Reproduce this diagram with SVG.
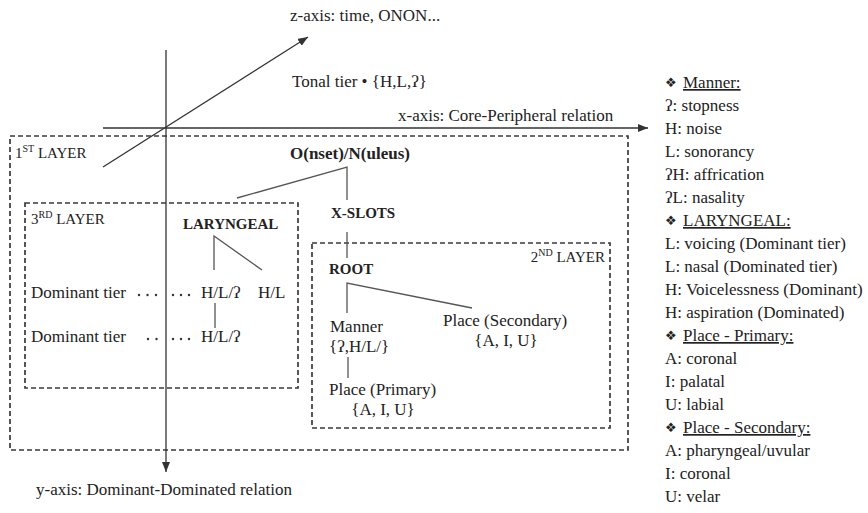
<svg xmlns="http://www.w3.org/2000/svg" width="868" height="513" viewBox="0 0 868 513">
  <style>
    text { font-family: "Liberation Serif", "Times New Roman", serif; fill: #222; font-size: 17px; }
    .b { font-weight: bold; font-size: 15px; }
    .bo { font-weight: bold; font-size: 17px; }
    .lay { font-size: 15px; }
    .sup { font-size: 10px; }
    .leg { font-size: 17px; }
    .orn { font-family: "DejaVu Sans", sans-serif; font-size: 13px; }
    .u { text-decoration: underline; }
    .box { fill: none; stroke: #3a3a3a; stroke-width: 1.7; stroke-dasharray: 5 3; }
    .axis { stroke: #333; stroke-width: 1.3; fill: none; }
    .edge { stroke: #555; stroke-width: 1.3; fill: none; }
    .dot { fill: #333; }
  </style>
  <defs>
    <marker id="arrow" markerUnits="userSpaceOnUse" markerWidth="10" markerHeight="8" refX="10" refY="4" orient="auto">
      <path d="M0,0 L10,4 L0,8 z" fill="#333"/>
    </marker>
  </defs>

  <rect width="868" height="513" fill="#ffffff"/>

  <!-- layer frames -->
  <g id="layer1">
    <rect class="box" x="10" y="136" width="618" height="314"/>
    <text class="lay" x="15" y="158">1<tspan class="sup" dy="-6">ST</tspan><tspan dy="6"> LAYER</tspan></text>
  </g>
  <g id="layer3">
    <rect class="box" x="25" y="203" width="273" height="185"/>
    <text class="lay" x="31" y="224">3<tspan class="sup" dy="-6">RD</tspan><tspan dy="6"> LAYER</tspan></text>
  </g>
  <g id="layer2">
    <rect class="box" x="312" y="243" width="298" height="185"/>
    <text class="lay" x="605" y="262" text-anchor="end">2<tspan class="sup" dy="-6">ND</tspan><tspan dy="6"> LAYER</tspan></text>
  </g>

  <!-- axes -->
  <g id="axes">
    <line class="axis" x1="166" y1="50" x2="166" y2="472" marker-end="url(#arrow)"/>
    <line class="axis" x1="103" y1="128" x2="648" y2="128" marker-end="url(#arrow)"/>
    <line class="axis" x1="103" y1="167" x2="308" y2="37" marker-end="url(#arrow)"/>
    <text x="290" y="21">z-axis: time, ONON...</text>
    <text x="398" y="121">x-axis: Core-Peripheral relation</text>
    <text x="36" y="495">y-axis: Dominant-Dominated relation</text>
    <text x="292" y="87">Tonal tier • {H,L,ʔ}</text>
  </g>

  <!-- tree connectors -->
  <g id="connectors">
    <polyline class="edge" points="237,198 347,167 347,200"/>
    <line class="edge" x1="347" y1="232" x2="347" y2="258"/>
    <polyline class="edge" points="214,270 214,236 262,270"/>
    <line class="edge" x1="215" y1="303" x2="215" y2="328"/>
    <polyline class="edge" points="347,313 347,283 472,308"/>
    <line class="edge" x1="348" y1="357" x2="348" y2="378"/>
    <g id="dots-dominant-1">
      <circle class="dot" cx="139" cy="295" r="1.2"/>
      <circle class="dot" cx="147.5" cy="295" r="1.2"/>
      <circle class="dot" cx="156" cy="295" r="1.2"/>
      <circle class="dot" cx="173" cy="295" r="1.2"/>
      <circle class="dot" cx="181" cy="295" r="1.2"/>
      <circle class="dot" cx="189" cy="295" r="1.2"/>
    </g>
    <g id="dots-dominant-2">
      <circle class="dot" cx="148" cy="339" r="1.2"/>
      <circle class="dot" cx="156.5" cy="339" r="1.2"/>
      <circle class="dot" cx="173" cy="339" r="1.2"/>
      <circle class="dot" cx="181" cy="339" r="1.2"/>
      <circle class="dot" cx="189" cy="339" r="1.2"/>
    </g>
  </g>

  <!-- nodes -->
  <g id="onset-nucleus"><text class="bo" x="290" y="159">O(nset)/N(uleus)</text></g>
  <g id="laryngeal"><text class="b" x="183" y="229">LARYNGEAL</text></g>
  <g id="xslots"><text class="b" x="331" y="218">X-SLOTS</text></g>
  <g id="root"><text class="b" x="329" y="274">ROOT</text></g>
  <g id="dominant-tier-1">
    <text x="31" y="298">Dominant tier</text>
    <text x="201" y="298">H/L/ʔ</text>
  </g>
  <g id="hl"><text x="258" y="298">H/L</text></g>
  <g id="dominant-tier-2">
    <text x="31" y="342">Dominant tier</text>
    <text x="201" y="342">H/L/ʔ</text>
  </g>
  <g id="manner">
    <text x="330" y="332">Manner</text>
    <text x="329" y="352">{ʔ,H/L/}</text>
  </g>
  <g id="place-primary">
    <text x="329" y="395">Place (Primary)</text>
    <text x="383" y="415" text-anchor="middle">{A, I, U}</text>
  </g>
  <g id="place-secondary">
    <text x="443" y="326">Place (Secondary)</text>
    <text x="506" y="346" text-anchor="middle">{A, I, U}</text>
  </g>

  <!-- legend -->
  <g id="legend" class="leg">
    <text class="orn" x="665" y="87">❖</text><text class="u" x="683" y="88">Manner:</text>
    <text x="665" y="111">ʔ: stopness</text>
    <text x="665" y="134">H: noise</text>
    <text x="665" y="157">L: sonorancy</text>
    <text x="665" y="180">ʔH: affrication</text>
    <text x="665" y="203">ʔL: nasality</text>
    <text class="orn" x="665" y="225">❖</text><text class="u" x="683" y="226">LARYNGEAL:</text>
    <text x="665" y="249">L: voicing (Dominant tier)</text>
    <text x="665" y="272">L: nasal (Dominated tier)</text>
    <text x="665" y="295">H: Voicelessness (Dominant)</text>
    <text x="665" y="318">H: aspiration (Dominated)</text>
    <text class="orn" x="665" y="340">❖</text><text class="u" x="683" y="341">Place - Primary:</text>
    <text x="665" y="364">A: coronal</text>
    <text x="665" y="387">I: palatal</text>
    <text x="665" y="410">U: labial</text>
    <text class="orn" x="665" y="432">❖</text><text class="u" x="683" y="433">Place - Secondary:</text>
    <text x="665" y="456">A: pharyngeal/uvular</text>
    <text x="665" y="479">I: coronal</text>
    <text x="665" y="502">U: velar</text>
  </g>
</svg>
